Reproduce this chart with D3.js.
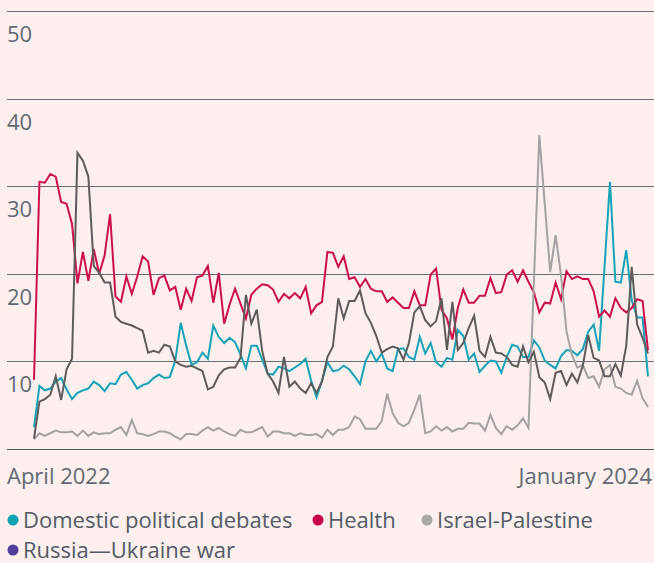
<!DOCTYPE html>
<html>
<head>
<meta charset="utf-8">
<script src="https://cdn.jsdelivr.net/npm/d3@7"></script>
<style>
html,body{margin:0;padding:0;background:#fcefee;}
svg{display:block;}
text{font-family:"Open Sans",Roboto,sans-serif;}
</style>
</head>
<body>
<svg id="chart" width="654" height="563"></svg>
<script>
// ---- data (weekly shares, %), April 2022 → January 2024 ----
const xLabels = ["April 2022", "January 2024"];
const yTicks = [0, 10, 20, 30, 40, 50];
const seriesNames = ["Domestic political debates", "Health", "Israel-Palestine", "Russia—Ukraine war"];

const domestic = [2.5,7.2,6.7,6.9,7.7,8.1,6.8,5.7,6.4,6.7,6.9,7.7,7.3,6.6,7.5,7.4,8.5,8.8,7.9,6.9,
  7.3,7.5,8.1,8.5,8.1,8.2,10.1,14.4,11.8,9.6,9.9,11.0,10.3,14.1,12.8,12.1,12.7,12.2,10.8,9.2,
  11.8,11.8,10.2,8.6,8.5,9.4,9.2,8.9,9.3,9.7,10.3,7.8,5.9,7.8,9.9,8.9,9.0,9.5,9.1,8.3,
  7.4,10.0,11.2,10.0,10.9,9.2,8.9,11.4,11.5,10.5,10.2,12.8,10.9,12.1,9.9,9.4,10.4,10.2,13.6,12.9,
  10.2,10.9,8.8,9.5,10.1,10.0,8.7,10.5,11.9,11.7,10.5,10.5,12.4,11.6,10.1,9.6,9.2,10.6,11.3,11.2,
  10.7,11.4,13.4,14.2,11.2,20.8,30.5,19.1,19.0,22.7,17.0,15.0,15.0,8.3];

const health = [7.9,30.5,30.4,31.4,31.1,28.2,28.0,25.7,18.9,22.5,19.2,22.8,20.0,22.1,26.8,17.4,16.8,19.7,17.7,19.7,
  22.0,21.4,17.6,19.5,19.8,18.1,18.5,15.9,18.3,16.9,19.6,19.8,20.9,16.7,20.1,14.3,16.5,18.3,16.6,14.9,
  17.6,18.3,18.8,18.7,18.2,16.8,17.7,17.2,17.8,17.2,18.5,15.5,16.4,16.8,22.5,22.4,20.8,22.0,19.4,19.6,
  18.5,19.4,18.3,18.0,18.0,16.8,17.3,16.7,16.1,16.1,18.0,16.4,16.4,19.9,20.6,15.9,14.9,12.5,16.1,18.2,
  16.7,16.7,17.5,17.5,19.5,17.8,17.9,19.9,20.4,19.1,20.4,19.1,17.9,15.6,16.7,16.6,19.0,17.1,20.3,19.4,
  19.7,19.4,19.4,18.0,15.1,15.8,15.1,17.2,16.1,15.6,16.1,17.1,16.9,11.3];

const israel = [1.1,1.8,1.5,1.8,2.1,1.9,1.9,2.0,1.5,2.1,1.5,1.9,1.7,1.8,1.8,2.2,2.5,1.6,3.3,1.8,
  1.7,1.5,1.7,2.0,2.0,1.8,1.4,1.1,1.7,1.7,1.6,2.1,2.5,2.1,2.4,2.0,1.7,1.5,2.2,1.9,
  1.9,2.2,2.5,1.4,2.0,2.0,1.8,1.8,1.5,1.8,1.6,1.6,1.7,1.3,2.2,1.6,2.2,2.2,2.5,3.7,
  3.4,2.3,2.3,2.3,3.2,6.3,4.1,3.0,2.6,3.0,4.5,6.2,1.8,2.0,2.6,2.1,2.5,2.0,2.3,2.3,
  3.0,2.9,2.9,2.1,3.9,2.4,1.7,2.6,2.2,2.7,3.5,2.4,19.1,35.8,28.0,20.2,24.4,19.8,13.4,10.7,
  9.3,9.6,8.1,8.3,7.1,9.1,9.6,7.1,6.9,6.4,6.2,7.8,5.8,4.8];

const russia = [1.2,5.4,5.7,6.2,8.3,5.6,9.1,10.3,33.8,32.9,31.1,20.9,20.1,19.0,19.0,15.1,14.5,14.3,14.1,13.8,
  13.5,11.0,11.2,11.0,11.9,11.7,10.0,9.6,9.4,9.5,9.2,8.9,6.8,7.1,8.4,9.1,9.3,9.3,10.4,17.6,
  14.3,15.9,11.2,8.6,7.7,6.4,10.5,7.1,7.7,6.9,6.4,7.5,6.4,7.7,10.5,11.7,17.2,14.9,16.9,16.9,
  18.1,15.5,14.4,12.9,11.0,11.4,11.7,11.5,10.2,12.1,15.6,16.3,14.7,14.0,14.6,17.2,11.3,16.8,11.3,12.1,
  13.8,15.2,11.2,10.5,12.8,11.0,10.9,10.5,9.6,9.4,11.7,9.9,11.1,8.2,7.6,5.7,8.7,8.9,7.3,8.6,
  7.6,9.5,13.0,10.4,10.1,8.3,8.3,9.7,8.4,11.8,20.8,14.2,12.7,10.9];

const lineColors = ["#16a4b6", "#cc0f4b", "#a3a3a3", "#5c5c5c"];
const dotColors  = ["#0fa3b4", "#c8004f", "#a8a8a8", "#4f3f98"];

// ---- drawing ----
const svg = d3.select("#chart");
const W = 654, H = 563;
const x = d3.scaleLinear().domain([0, domestic.length - 1]).range([34, 648]);
const y = d3.scaleLinear().domain([0, 50]).range([449, 11]);

svg.append("rect").attr("width", W).attr("height", H).attr("fill", "#fcefee");

// grid
const grid = svg.append("g");
grid.selectAll("line").data(yTicks).join("line")
  .attr("x1", 7).attr("x2", W)
  .attr("y1", d => Math.round(y(d)) + 0.5).attr("y2", d => Math.round(y(d)) + 0.5)
  .attr("stroke", d => d === 0 ? "#4e5860" : "#66717a")
  .attr("stroke-width", 1);

grid.selectAll("text").data(yTicks.filter(d => d > 0)).join("text")
  .attr("x", 7).attr("y", d => y(d) + 31)
  .attr("fill", "#5f6b74").attr("font-size", 22)
  .text(d => d);

// x labels
svg.append("text").attr("x", 7).attr("y", 484).attr("font-size", 22).attr("fill", "#5f6b74").text(xLabels[0]);
svg.append("text").attr("x", 652).attr("y", 484).attr("text-anchor", "end").attr("font-size", 22).attr("fill", "#5f6b74").text(xLabels[1]);

// lines
const series = [domestic, health, israel, russia];
const line = d3.line().x((d, i) => x(i)).y(d => y(d));
svg.append("g").selectAll("path").data(series).join("path")
  .attr("d", line)
  .attr("fill", "none")
  .attr("stroke", (d, i) => lineColors[i])
  .attr("stroke-width", 2)
  .attr("stroke-linejoin", "miter");

// legend
const legendPos = [
  {x: 13, y: 520}, {x: 318, y: 520}, {x: 427, y: 520}, {x: 13, y: 550}
];
const lg = svg.append("g").selectAll("g").data(seriesNames).join("g")
  .attr("transform", (d, i) => `translate(${legendPos[i].x},${legendPos[i].y})`);
lg.append("circle").attr("r", 5.5).attr("fill", (d, i) => dotColors[i]);
lg.append("text").attr("x", 10).attr("y", 7.5).attr("font-size", 22).attr("fill", "#505c66").text(d => d);
</script>
</body>
</html>
